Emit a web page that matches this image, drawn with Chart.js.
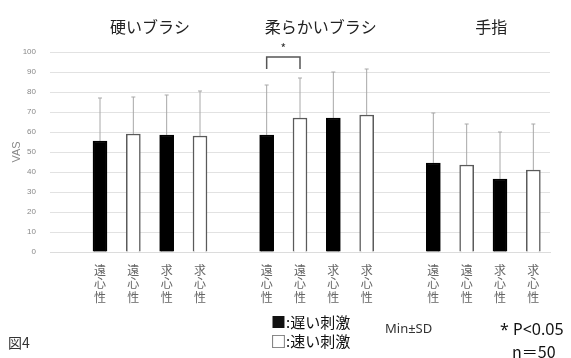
<!DOCTYPE html>
<html>
<head>
<meta charset="utf-8">
<script src="https://cdn.jsdelivr.net/npm/chart.js@4"></script>
<style>
  html, body { margin: 0; padding: 0; background: #fff; }
  #wrap { width: 571px; height: 358px; }
</style>
</head>
<body>
<div id="wrap"><canvas id="myChart" width="571" height="358"></canvas></div>
<script>
// group titles and the labels under each bar
let groups = ['硬いブラシ', '柔らかいブラシ', '手指'];
let barLabels = ['遠心性', '遠心性', '求心性', '求心性'];

// mean VAS per bar (slow, fast, slow, fast in each group)
let hard = [55.5, 59, 58.5, 58];
let soft = [58.5, 67, 67, 68.5];
let finger = [44.5, 43.5, 36.5, 41];

// SD (upper whisker only)
let hardSD = [21.5, 18.5, 20, 22.5];
let softSD = [25, 20, 23, 23];
let fingerSD = [25, 20.5, 23.5, 23];

let yTicks = [0, 10, 20, 30, 40, 50, 60, 70, 80, 90, 100];

let slowColor = '#000000';
let fastColor = '#ffffff';

// build the category axis: an empty slot before each group
let labels = [];
let values = [];
let sds = [];
let fills = [];
let borders = [];
[hard, soft, finger].forEach((g, gi) => {
  labels.push('');
  values.push(null);
  sds.push(null);
  fills.push(slowColor);
  borders.push(slowColor);
  g.forEach((v, i) => {
    labels.push(barLabels[i].split(''));
    values.push(v);
    sds.push([hardSD, softSD, fingerSD][gi][i]);
    fills.push(i % 2 == 0 ? slowColor : fastColor);
    borders.push(i % 2 == 0 ? slowColor : '#5a5a5a');
  });
});

let extras = {
  id: 'extras',
  afterDatasetsDraw(chart) {
    let c = chart.ctx;
    let x = chart.scales.x;
    let y = chart.scales.y;

    // error bars
    c.save();
    c.strokeStyle = '#a8a8a8';
    c.lineWidth = 1;
    values.forEach((v, i) => {
      if (v == null) return;
      let px = x.getPixelForValue(i);
      let top = y.getPixelForValue(v + sds[i]);
      let bot = y.getPixelForValue(v);
      c.beginPath();
      c.moveTo(px, bot);
      c.lineTo(px, top);
      c.moveTo(px - 2, top);
      c.lineTo(px + 2, top);
      c.stroke();
    });

    // significance bracket between bars 1 and 2 of the soft brush group
    let a = x.getPixelForValue(6);
    let b = x.getPixelForValue(7);
    c.strokeStyle = '#555';
    c.lineWidth = 1.5;
    c.beginPath();
    c.moveTo(a, y.getPixelForValue(91.5));
    c.lineTo(a, y.getPixelForValue(97.5));
    c.lineTo(b, y.getPixelForValue(97.5));
    c.lineTo(b, y.getPixelForValue(91.5));
    c.stroke();
    c.fillStyle = '#333';
    c.font = '12px "Noto Sans CJK JP"';
    c.textAlign = 'center';
    c.textBaseline = 'middle';
    c.fillText('*', (a + b) / 2, y.getPixelForValue(102));

    // group titles
    c.font = '16px "Noto Sans CJK JP"';
    c.fillStyle = '#222';
    groups.forEach((t, gi) => {
      let first = x.getPixelForValue(gi * 5 + 1);
      let last = x.getPixelForValue(gi * 5 + 4);
      c.fillText(t, (first + last) / 2 + gi * 4, 27);
    });

    // notes under the chart
    c.textAlign = 'left';
    c.font = '15px "Noto Sans CJK JP"';
    c.fillStyle = '#111';
    c.fillText('■:遅い刺激', 271, 322);
    c.fillText('□:速い刺激', 271, 341);
    c.font = '13px "Noto Sans"';
    c.fillStyle = '#333';
    c.fillText('Min±SD', 385, 329);
    c.font = '16px "Noto Sans"';
    c.fillStyle = '#111';
    c.fillText('* P<0.05', 500, 330);
    c.font = '16px "Noto Sans CJK JP"';
    c.fillText('n＝50', 512, 352);
    c.font = '14px "Noto Sans CJK JP"';
    c.fillStyle = '#333';
    c.fillText('図4', 8, 343);
    c.restore();
  }
};

let ctx = document.getElementById('myChart').getContext('2d');

let myChart = new Chart(ctx, {
  type: 'bar',
  data: {
    labels: labels,
    datasets: [{
      data: values,
      backgroundColor: fills,
      borderColor: borders,
      borderWidth: 1.5,
      barThickness: 14
    }]
  },
  options: {
    responsive: false,
    animation: false,
    layout: { padding: { left: 10, right: 21, top: 52, bottom: 0 } },
    plugins: {
      legend: { display: false },
      tooltip: { enabled: false }
    },
    scales: {
      x: {
        grid: { display: false },
        border: { color: '#dcdcdc' },
        ticks: {
          autoSkip: false,
          maxRotation: 0,
          padding: 4,
          color: '#666',
          font: { family: '"Noto Sans CJK JP"', size: 12, lineHeight: 1.1 }
        },
        afterFit: s => { s.height = 106; }
      },
      y: {
        min: 0,
        max: 100,
        afterBuildTicks: s => { s.ticks = yTicks.map(v => ({ value: v })); },
        grid: { color: '#e2e2e2', drawTicks: false },
        border: { display: false },
        ticks: {
          padding: 14,
          color: '#888',
          font: { family: 'Arial', size: 8 }
        },
        title: {
          display: true,
          text: 'VAS',
          color: '#888',
          padding: 0,
          font: { family: 'Arial', size: 11 }
        },
        afterFit: s => { s.width = 40; }
      }
    }
  },
  plugins: [extras]
});
</script>
</body>
</html>
